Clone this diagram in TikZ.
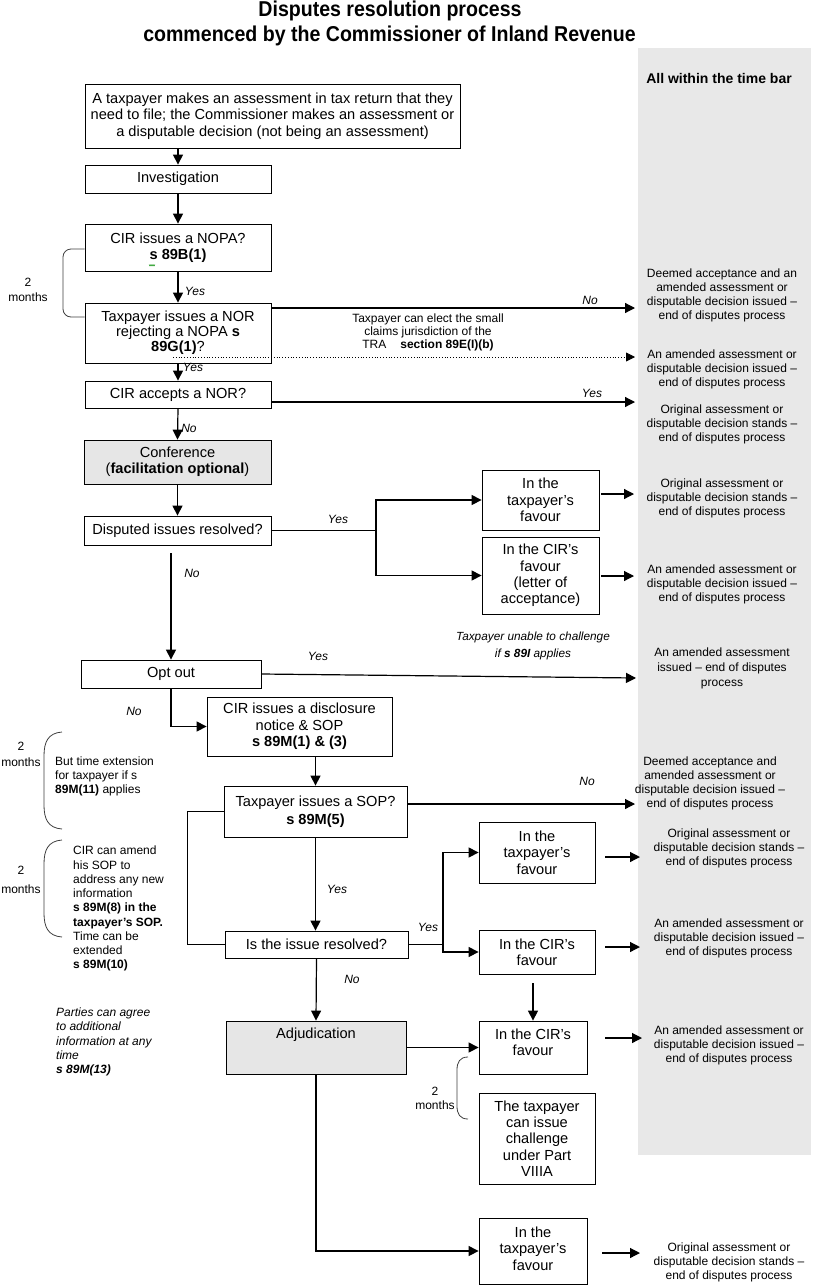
\documentclass[tikz,border=0pt]{standalone}
\usepackage{fontspec}
\setmainfont{Liberation Sans}
\newfontfamily\titlefont[FakeStretch=0.91]{Liberation Sans}
\usetikzlibrary{arrows.meta,calc}
\definecolor{bandgray}{HTML}{E8E8E8}
\definecolor{boxgray}{HTML}{E6E6E6}
\newcommand\fmain{\fontsize{14.6}{16.3}\selectfont}
\newcommand\fsm{\fontsize{12}{14}\selectfont}
\newcommand\flab{\fontsize{12}{14}\selectfont\itshape}
\begin{document}
\begin{tikzpicture}[x=1pt,y=-1pt,
  box/.style={draw,line width=0.8pt,inner sep=0pt,align=center,font=\fmain},
  gbox/.style={box,fill=boxgray},
  arr/.style={line width=1.2pt,-{Triangle[length=10pt,width=10pt]}},
  ln/.style={line width=1.2pt},
  thin line/.style={line width=0.8pt},
  rtext/.style={align=center,font=\fsm,inner sep=0pt},
  ltext/.style={align=left,font=\fsm,inner sep=0pt,anchor=west},
  lab/.style={font=\flab,inner sep=0pt},
  brace/.style={line width=0.8pt,draw=black!75}
]
\useasboundingbox (0,0) rectangle (815,1288);
\fill[white] (0,0) rectangle (815,1288);

% time bar band
\node[fill=bandgray,inner sep=0pt,minimum width=173pt,minimum height=1107pt,anchor=north west] (band) at (638,48) {};
\node[font=\fontsize{14}{16}\selectfont\bfseries,inner sep=0pt] (tbar) at (719,78) {All within the time bar};

% title
\node[font=\fontsize{21.5}{24}\selectfont\titlefont\bfseries,inner sep=0pt] (title1) at (390,11) {Disputes resolution process};
\node[font=\fontsize{21.5}{24}\selectfont\titlefont\bfseries,inner sep=0pt] (title2) at (389.5,36) {commenced by the Commissioner of Inland Revenue};

% main column boxes
\node[box,minimum width=375pt,minimum height=64pt,font=\fontsize{14.6}{16.5}\selectfont] (b1) at (272.5,116)
  {A taxpayer makes an assessment in tax return that they\\need to file; the Commissioner makes an assessment or\\a disputable decision (not being an assessment)};
\node[box,minimum width=186pt,minimum height=28pt] (inv) at (178,179) {Investigation};
\node[box,minimum width=186pt,minimum height=47pt] (nopa) at (178,247.5) {CIR issues a NOPA?\\\textbf{s 89B(1)}};
\node[box,minimum width=186pt,minimum height=60pt,font=\fontsize{14.6}{15}\selectfont] (nor) at (178,333) {Taxpayer issues a NOR\\rejecting a NOPA \textbf{s}\\\textbf{89G(1)}?};
\node[box,minimum width=186pt,minimum height=27pt] (acc) at (178,394.5) {CIR accepts a NOR?};
\node[gbox,minimum width=187pt,minimum height=44pt] (conf) at (177.5,462) {Conference\\(\textbf{facilitation optional})};
\node[box,minimum width=187pt,minimum height=29pt] (disp) at (177.5,530.5) {Disputed issues resolved?};
\node[box,minimum width=117pt,minimum height=60pt] (tf1) at (540.5,500) {In the\\taxpayer's\\favour};
\node[box,minimum width=117pt,minimum height=77pt] (cf1) at (540.5,575.5) {In the CIR's\\favour\\(letter of\\acceptance)};
\node[box,minimum width=180pt,minimum height=28pt] (opt) at (171,674) {Opt out};
\node[box,minimum width=185pt,minimum height=59pt] (discl) at (299.5,726.5) {CIR issues a disclosure\\notice \& SOP\\\textbf{s 89M(1) \& (3)}};
\node[box,minimum width=183pt,minimum height=51pt,font=\fontsize{14.6}{18}\selectfont] (sop) at (315.5,811.5) {Taxpayer issues a SOP?\\\textbf{s 89M(5)}};
\node[box,minimum width=183pt,minimum height=27pt] (res) at (316.5,944.5) {Is the issue resolved?};
\node[box,minimum width=116pt,minimum height=61pt] (tf2) at (537,852.5) {In the\\taxpayer's\\favour};
\node[box,minimum width=116pt,minimum height=44pt] (cf2) at (537,952) {In the CIR's\\favour};
\node[gbox,minimum width=180pt,minimum height=53pt] (adj) at (316,1047.5) {};
\node[font=\fmain,inner sep=0pt] (adjtext) at ($(adj.north)+(0,14)$) {Adjudication};
\node[box,minimum width=108pt,minimum height=53pt] (cf3) at (533,1047.5) {};
\node[font=\fmain,align=center,inner sep=0pt] (cf3text) at ($(cf3.center)+(0,-5.5)$) {In the CIR's\\favour};
\node[box,minimum width=116pt,minimum height=91pt] (chal) at (537,1138.5) {The taxpayer\\can issue\\challenge\\under Part\\VIIIA};
\node[box,minimum width=108pt,minimum height=66pt] (tf3) at (533,1251) {};
\node[font=\fmain,align=center,inner sep=0pt] (tf3text) at ($(tf3.center)+(0,-2.5)$) {In the\\taxpayer's\\favour};

% outcome texts
\node[rtext] (r1) at (722,295) {Deemed acceptance and an\\amended assessment or\\disputable decision issued –\\end of disputes process};
\node[rtext] (r2) at (722,369.5) {An amended assessment or\\disputable decision issued –\\end of disputes process};
\node[rtext] (r3) at (722,424) {Original assessment or\\disputable decision stands –\\end of disputes process};
\node[rtext] (r4) at (722,498.5) {Original assessment or\\disputable decision stands –\\end of disputes process};
\node[rtext] (r5) at (722,584) {An amended assessment or\\disputable decision issued –\\end of disputes process};
\node[rtext,font=\fontsize{12}{15}\selectfont] (r6) at (722,668) {An amended assessment\\issued – end of disputes\\process};
\node[rtext] (r7) at (710,783) {Deemed acceptance and\\amended assessment or\\disputable decision issued –\\end of disputes process};
\node[rtext] (r8) at (729,848) {Original assessment or\\disputable decision stands –\\end of disputes process};
\node[rtext] (r9) at (729,938) {An amended assessment or\\disputable decision issued –\\end of disputes process};
\node[rtext] (r10) at (729,1045.7) {An amended assessment or\\disputable decision issued –\\end of disputes process};
\node[rtext] (r11) at (729,1262) {Original assessment or\\disputable decision stands –\\end of disputes process};

% notes
\node[rtext,font=\fontsize{12}{13.4}\selectfont] (small) at (428,332.3) {Taxpayer can elect the small\\claims jurisdiction of the\\TRA\hspace{14pt}\textbf{section 89E(I)(b)}};
\node[rtext,font=\fontsize{11.8}{16.5}\selectfont\itshape] (unable) at (533,646) {Taxpayer unable to challenge\\if \textbf{s 89I} applies};
\node[ltext] (ext) at (55,776.3) {But time extension\\for taxpayer if s\\\textbf{89M(11)} applies};
\node[ltext,font=\fontsize{12}{14.25}\selectfont] (amend) at (73,908.7) {CIR can amend\\his SOP to\\address any new\\information\\\textbf{s 89M(8) in the}\\\textbf{taxpayer's SOP.}\\Time can be\\extended\\\textbf{s 89M(10)}};
\node[ltext,font=\fontsize{12}{14.3}\selectfont\itshape] (parties) at (56,1042) {Parties can agree\\to additional\\information at any\\time\\\textbf{s 89M(13)}};

% two-month brackets and labels
\node[rtext,font=\fontsize{12}{14.6}\selectfont] (m1) at (28,290) {2\\months};
\node[rtext,font=\fontsize{12}{16.7}\selectfont] (m2) at (21,754.3) {2\\months};
\node[rtext,font=\fontsize{12}{19}\selectfont] (m3) at (21,879.5) {2\\months};
\node[rtext,font=\fontsize{12}{14}\selectfont] (m4) at (435,1098) {2\\months};
\draw[brace,rounded corners=8pt] (nopa.west |- 0,249) -- (63,249) -- (63,317) -- (nor.west |- 0,317);
\draw[brace] (62,732) .. controls (48,733) and (44,742) .. (44,756) -- (44,805) .. controls (44,819) and (48,828) .. (62,829);
\draw[brace] (62,840) .. controls (48,841) and (44,850) .. (44,864) -- (44,913) .. controls (44,927) and (48,936) .. (62,937);
\draw[brace] (468,1057) .. controls (460,1057) and (457,1062) .. (457,1070) -- (457,1106) .. controls (457,1114) and (460,1119) .. (468,1119);

% spell-check squiggle under the s
\draw[green!55!black,line width=0.5pt] (149,264.5) -- (150,266) -- (151,264.5) -- (152,266) -- (153,264.5) -- (154,266) -- (155,264.5);

% main column connectors
\draw[arr] (b1.south -| inv.north) -- (inv.north);
\draw[arr] (inv.south) -- (nopa.north);
\draw[arr] (nopa.south) -- (nor.north);
\draw[arr] (nor.south) -- (acc.north);
\draw[arr] (acc.south) -- (conf.north);
\draw[arr] (conf.south) -- (disp.north);
\draw[arr] ($(disp.south -| opt.north)+(0,8)$) -- (opt.north);

% to outcomes (top part)
\draw[arr] (nor.east |- 0,308) -- ([xshift=-3pt]band.west |- 0,308);
\draw[thin line,dotted,-{Triangle[length=9pt,width=9pt]}] (173,357) -- ([xshift=-3pt]band.west |- 0,357);
\draw[arr] (acc.east |- 0,402) -- ([xshift=-3pt]band.west |- 0,402);

% conference branch
\coordinate (br1) at (376,530.5);
\draw[ln] (disp.east) -- (br1);
\draw[arr] (br1) |- (tf1.west);
\draw[arr] (br1) |- (cf1.west);
\draw[arr] ([xshift=2pt]tf1.east |- 0,494) -- ([xshift=-4pt]band.west |- 0,494);
\draw[arr] ([xshift=2pt]cf1.east |- 0,576) -- ([xshift=-4pt]band.west |- 0,576);

% opt out
\draw[arr] (opt.east) -- ([xshift=-2pt]band.west |- 0,678);
\draw[arr] (opt.south) |- (discl.west);
\draw[arr] (discl.south -| sop.north) -- (sop.north);
\draw[arr] (sop.east |- 0,804) -- ([xshift=-3pt]band.west |- 0,804);
\draw[thin line] (sop.west) -- ++(-36,0) |- (res.west);
\draw[arr] (sop.south) -- (sop.south |- res.north);

% issue resolved branch
\coordinate (br2) at (443,944.5);
\draw[ln] (res.east) -- (br2);
\draw[arr] (br2) |- (tf2.west);
\draw[arr] (br2) |- (cf2.west);
\draw[arr] ([xshift=10pt]tf2.east |- 0,857) -- ([xshift=2pt]band.west |- 0,857);
\draw[arr] ([xshift=10pt]cf2.east |- 0,947) -- ([xshift=2pt]band.west |- 0,947);
\draw[arr] (res.south) -- (adj.north);
\draw[arr] ($(cf2.south -| cf3.north)+(0,9)$) -- (cf3.north);
\draw[arr] (adj.east) -- (cf3.west);
\draw[arr] ([xshift=18pt]cf3.east |- 0,1038) -- ([xshift=4pt]band.west |- 0,1038);
\draw[arr] (adj.south) |- (tf3.west);
\draw[arr] ([xshift=15pt]tf3.east |- 0,1253) -- ([xshift=2pt]band.west |- 0,1253);

% yes / no labels
\node[lab] (l1) at (195,291.5) {Yes};
\node[lab] (l2) at (193,367.3) {Yes};
\node[lab] (l3) at (189,428) {No};
\node[lab] (l4) at (590,300) {No};
\node[lab] (l5) at (592,393) {Yes};
\node[lab] (l6) at (338,519) {Yes};
\node[lab] (l7) at (192,573) {No};
\node[lab] (l8) at (318,656) {Yes};
\node[lab] (l9) at (134,711) {No};
\node[lab] (l10) at (587,781) {No};
\node[lab] (l11) at (337,889) {Yes};
\node[lab] (l12) at (428,927) {Yes};
\node[lab] (l13) at (352,979) {No};
\end{tikzpicture}
\end{document}
